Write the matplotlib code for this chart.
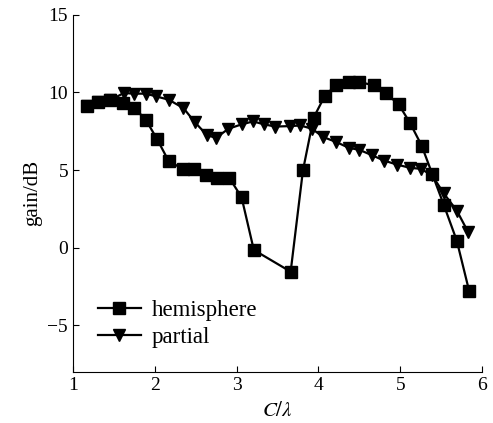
import matplotlib.pyplot as plt

plt.rcParams['font.family'] = ['Liberation Serif', 'DejaVu Serif']
plt.rcParams['mathtext.fontset'] = 'stix'

# hemisphere
x_hemi = [1.17, 1.31, 1.45, 1.61, 1.75, 1.89, 2.03, 2.17, 2.34, 2.48, 2.62, 2.76,
          2.91, 3.06, 3.21, 3.66, 3.81, 3.94, 4.08, 4.22, 4.37, 4.50, 4.68, 4.82,
          4.98, 5.12, 5.26, 5.39, 5.53, 5.69, 5.84]
y_hemi = [9.1, 9.37, 9.48, 9.31, 9.0, 8.24, 6.97, 5.57, 5.08, 5.08, 4.71, 4.5,
          4.5, 3.25, -0.15, -1.55, 4.97, 8.37, 9.8, 10.5, 10.67, 10.67, 10.45, 9.96,
          9.23, 8.02, 6.58, 4.75, 2.77, 0.45, -2.77]

# partial
x_part = [1.17, 1.31, 1.45, 1.62, 1.75, 1.89, 2.02, 2.17, 2.35, 2.49, 2.64, 2.75,
          2.90, 3.06, 3.20, 3.34, 3.47, 3.65, 3.78, 3.92, 4.06, 4.22, 4.37, 4.50,
          4.66, 4.80, 4.96, 5.12, 5.25, 5.39, 5.53, 5.69, 5.83]
y_part = [9.1, 9.37, 9.48, 9.96, 9.92, 9.92, 9.74, 9.53, 8.99, 8.08, 7.23, 7.08,
          7.66, 7.94, 8.13, 7.94, 7.8, 7.83, 7.87, 7.66, 7.12, 6.8, 6.43, 6.3,
          5.94, 5.61, 5.35, 5.14, 5.08, 4.65, 3.5, 2.39, 0.99]

fig = plt.figure(figsize=(4.93, 4.23), dpi=100)
ax = fig.add_axes([0.148, 0.121, 0.830, 0.844])

ax.plot(x_part, y_part, color='black', lw=1.6, marker='v', ms=9, label='partial', zorder=2)
ax.plot(x_hemi, y_hemi, color='black', lw=1.6, marker='s', ms=8, label='hemisphere', zorder=3)

ax.set_xlim(1, 6)
ax.set_ylim(-8, 15)
ax.set_xticks([1, 2, 3, 4, 5, 6])
ax.set_yticks([-5, 0, 5, 10, 15])
ax.spines['top'].set_visible(False)
ax.spines['right'].set_visible(False)
ax.tick_params(direction='in', length=4, labelsize=14)

ax.set_xlabel(r'$C/\lambda$', fontsize=15, labelpad=6)
ax.set_ylabel('gain/dB', fontsize=15)

h, l = ax.get_legend_handles_labels()
ax.legend(h[::-1], l[::-1], loc='lower left', bbox_to_anchor=(0.01, 0.01),
          frameon=False, fontsize=16.5, handlelength=1.9, labelspacing=0.25,
          handletextpad=0.45)

fig.savefig('out.png')
